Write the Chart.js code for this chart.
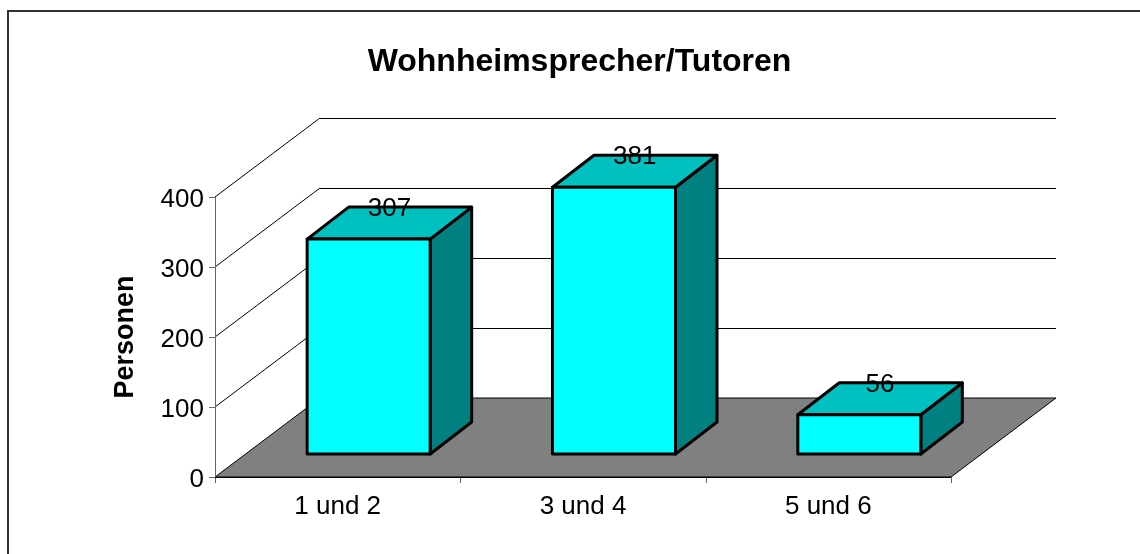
<!DOCTYPE html>
<html><head><meta charset="utf-8">
<style>html,body{margin:0;padding:0;background:#fff}canvas{display:block}</style>
<script src="https://cdn.jsdelivr.net/npm/chart.js@4/dist/chart.umd.min.js"></script>
</head><body>
<canvas id="c" width="1140" height="554" style="width:1140px;height:554px"></canvas>
<script>
const categories = ["1 und 2", "3 und 4", "5 und 6"];
const personen = [307, 381, 56];
const yTicks = [0, 100, 200, 300, 400];
const chartTitle = "Wohnheimsprecher/Tutoren";
const axisTitle = "Personen";
const FONT = '"Liberation Sans", Arial, sans-serif';
const WALL = {dx:105, dy:79};   // full depth of the 3D box
const SHIFT = {dx:31, dy:23};   // front of bars relative to the front plane
const BAR = {dx:41.5, dy:32};   // depth of a bar
const EDGE = 3;

function crisp(v){return Math.round(v)+0.5;}
function line(ctx,x1,y1,x2,y2,color,w){ctx.beginPath();ctx.moveTo(x1,y1);ctx.lineTo(x2,y2);ctx.strokeStyle=color;ctx.lineWidth=w;ctx.stroke();}
function poly(ctx,pts,fill,stroke,w){ctx.beginPath();pts.forEach((p,i)=>i?ctx.lineTo(p[0],p[1]):ctx.moveTo(p[0],p[1]));ctx.closePath();
  if(fill){ctx.fillStyle=fill;ctx.fill();} if(stroke){ctx.lineJoin='round';ctx.strokeStyle=stroke;ctx.lineWidth=w;ctx.stroke();}}

const frame3d = {
  id:'frame3d',
  beforeDatasetsDraw(chart){
    const {ctx,scales:{x,y}}=chart, L=x.left, R=x.right, y0=y.getPixelForValue(0);
    ctx.save();
    // outer chart border (open at right and bottom, as in the source)
    ctx.strokeStyle='#333';ctx.lineWidth=2;
    ctx.beginPath();ctx.moveTo(8,560);ctx.lineTo(8,11);ctx.lineTo(1142,11);ctx.stroke();
    // floor
    poly(ctx,[[L,y0],[R,y0],[R+WALL.dx,y0-WALL.dy],[L+WALL.dx,y0-WALL.dy]],'#808080','#000',1);
    // grid lines
    yTicks.forEach(t=>{
      const p=y.getPixelForValue(t), cp=crisp(p);
      if(t>0){line(ctx,L,p,L+WALL.dx,p-WALL.dy,'#000',1);line(ctx,L+WALL.dx,crisp(p-WALL.dy),R+WALL.dx,crisp(p-WALL.dy),'#000',1);}
      line(ctx,L-6,cp,L,cp,'#666',1);
    });
    line(ctx,crisp(L),y.getPixelForValue(400),crisp(L),y0+6,'#666',1);
    // x ticks
    for(let i=0;i<=categories.length;i++){const px=crisp(L+(R-L)*i/categories.length);line(ctx,px,y0,px,y0+6,'#666',1);}
    line(ctx,L,crisp(y0),R,crisp(y0),'#000',1);
    // bar sides
    chart.getDatasetMeta(0).data.forEach(b=>{
      const l=b.x-b.width/2+SHIFT.dx,r=b.x+b.width/2+SHIFT.dx,t=b.y-SHIFT.dy,bt=b.base-SHIFT.dy;
      poly(ctx,[[r,t],[r+BAR.dx,t-BAR.dy],[r+BAR.dx,bt-BAR.dy],[r,bt]],'#008080','#000',EDGE);
      poly(ctx,[[l,t],[r,t],[r+BAR.dx,t-BAR.dy],[l+BAR.dx,t-BAR.dy]],'#00c0c0','#000',EDGE);
    });
    ctx.restore();
    // front faces: library draws them, moved onto the floor
    ctx.save();ctx.translate(SHIFT.dx,-SHIFT.dy);
  },
  afterDatasetsDraw(chart){
    const {ctx}=chart;
    ctx.restore();
    ctx.save();
    chart.getDatasetMeta(0).data.forEach((b,i)=>{
      const l=b.x-b.width/2+SHIFT.dx,r=b.x+b.width/2+SHIFT.dx,t=b.y-SHIFT.dy,bt=b.base-SHIFT.dy;
      poly(ctx,[[l,t],[r,t],[r,bt],[l,bt]],null,'#000',EDGE);
    });
    ctx.font='26px '+FONT;ctx.fillStyle='#000';ctx.textAlign='center';ctx.textBaseline='middle';
    chart.getDatasetMeta(0).data.forEach((b,i)=>{
      ctx.fillText(String(personen[i]),b.x+SHIFT.dx+BAR.dx/2,b.y-SHIFT.dy-BAR.dy+2);
    });
    ctx.restore();
  }
};

new Chart(document.getElementById('c'),{
  type:'bar',
  data:{labels:categories,datasets:[{data:personen,backgroundColor:'#00ffff',borderWidth:0,barPercentage:0.5014,categoryPercentage:1,clip:false}]},
  options:{
    responsive:false,animation:false,
    events:[],
    layout:{padding:{top:197,right:189,left:0,bottom:0}},
    plugins:{legend:{display:false},tooltip:{enabled:false},title:{display:false}},
    scales:{
      x:{type:'category',position:'bottom',grid:{display:false},border:{display:false},
        afterFit(s){s.height=554-477;},
        ticks:{color:'#000',font:{family:FONT,size:26},padding:6,maxRotation:0,autoSkip:false}},
      y:{type:'linear',min:0,max:400,afterBuildTicks(s){s.ticks=yTicks.map(v=>({value:v}));},
        afterFit(s){s.width=215;},
        grid:{display:false},border:{display:false},
        ticks:{color:'#000',font:{family:FONT,size:26},padding:3,labelOffset:3},
        title:{display:false}}
    }
  },
  plugins:[frame3d,{
    id:'texts',
    afterDraw(chart){
      const {ctx}=chart;
      ctx.save();ctx.fillStyle='#000';ctx.textAlign='center';ctx.textBaseline='middle';
      ctx.font='bold 32px '+FONT;ctx.fillText(chartTitle,579.5,62);
      ctx.translate(126,337);ctx.rotate(-Math.PI/2);
      ctx.font='bold 27px '+FONT;ctx.fillText(axisTitle,0,0);
      ctx.restore();
    }
  }]
});
</script>
</body></html>
